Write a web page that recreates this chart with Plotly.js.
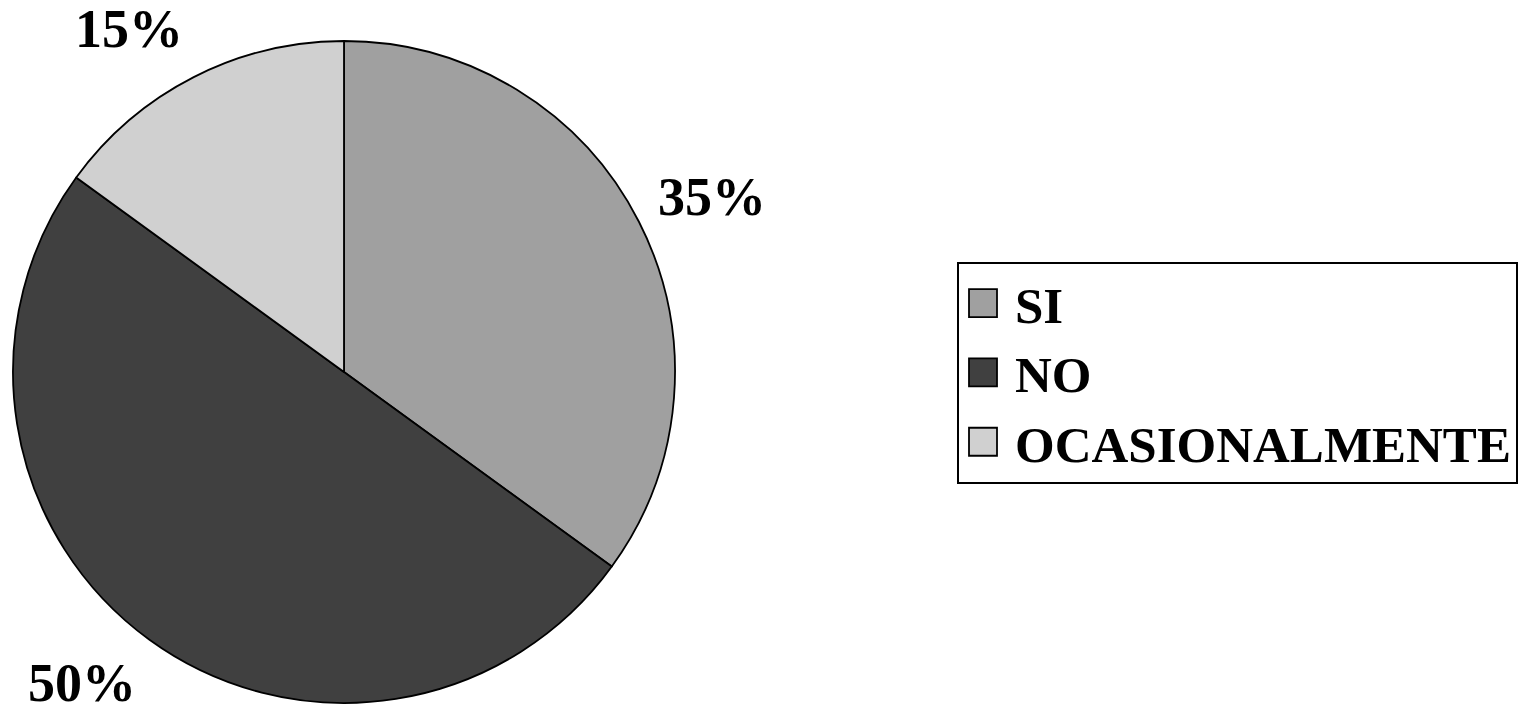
<!DOCTYPE html>
<html>
<head>
<meta charset="utf-8">
<script src="https://cdn.plot.ly/plotly-3.0.1.min.js"></script>
<style>
  html, body { margin: 0; padding: 0; background: #ffffff; }
  #chart { width: 1528px; height: 721px; }
</style>
</head>
<body>
<div id="chart"></div>
<script>
// ---- data ----
const categories = ["SI", "NO", "OCASIONALMENTE"];
const percentages = [35, 50, 15];
const sliceColors = ["#a0a0a0", "#404040", "#d0d0d0"];

// ---- geometry (pixels) ----
const W = 1528, H = 721;
const cx = 344, cy = 372, R = 331;
const labelRadiusX = 350;   // horizontal distance to the label's inner edge
const labelRadiusY = 385;   // vertical distance to the label's centre

const domainX = [(cx - R) / W, (cx + R) / W];
const domainY = [(H - cy - R) / H, (H - cy + R) / H];

// labels placed on each slice's mid-angle (clockwise from 12 o'clock)
const total = percentages.reduce((a, b) => a + b, 0);
let cum = 0;
const annotations = percentages.map((v, i) => {
  const mid = (cum + v / 2) / total * 2 * Math.PI;
  cum += v;
  const s = Math.sin(mid), c = Math.cos(mid);
  const px = cx + s * labelRadiusX;
  const py = cy - c * labelRadiusY;
  return {
    x: px / W, y: 1 - py / H, xref: "paper", yref: "paper",
    xanchor: s >= 0 ? "left" : "right",
    yanchor: "middle",
    showarrow: false,
    text: v + "%",
    font: { family: "Liberation Serif, Times New Roman, serif", size: 54, color: "#000000", weight: 700 }
  };
});

const trace = {
  type: "pie",
  labels: categories,
  values: percentages,
  sort: false,
  direction: "clockwise",
  rotation: 0,
  textinfo: "none",
  hoverinfo: "label+percent",
  marker: { colors: sliceColors, line: { color: "#000000", width: 1.8 } },
  domain: { x: domainX, y: domainY }
};

const layout = {
  width: W, height: H,
  margin: { l: 0, r: 0, t: 0, b: 0 },
  paper_bgcolor: "#ffffff",
  plot_bgcolor: "#ffffff",
  showlegend: true,
  legend: {
    x: 957 / W, xanchor: "left",
    y: 1 - 372.5 / H, yanchor: "middle",
    bordercolor: "#000000", borderwidth: 2,
    bgcolor: "#ffffff",
    font: { family: "Liberation Serif, Times New Roman, serif", size: 51, color: "#000000", weight: 700 },
    itemwidth: 46,
    traceorder: "normal"
  },
  annotations: annotations
};

Plotly.newPlot("chart", [trace], layout, { staticPlot: true, displayModeBar: false }).then(gd => {
  // enlarge the legend swatches to the reference's square size
  gd.querySelectorAll(".legend .legendpoints path").forEach(p => {
    p.setAttribute("d", "M10,14H-18V-14H10Z");
  });
});
</script>
</body>
</html>
